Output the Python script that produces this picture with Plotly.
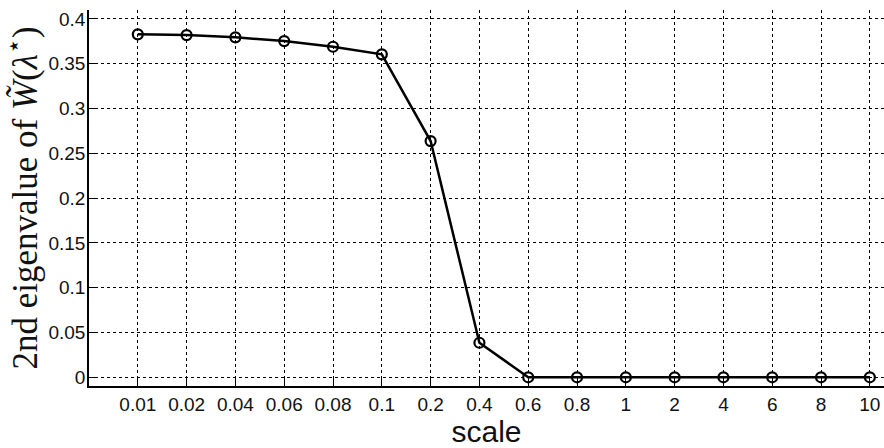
import plotly.graph_objects as go

# Scale parameter (categorical axis) and the 2nd eigenvalue at each scale
scales = ["0.01", "0.02", "0.04", "0.06", "0.08", "0.1", "0.2", "0.4",
          "0.6", "0.8", "1", "2", "4", "6", "8", "10"]
eigen2 = [0.3828, 0.3820, 0.3795, 0.3753, 0.3690, 0.3605, 0.2637, 0.0386,
          0.0, 0.0, 0.0, 0.0, 0.0, 0.0, 0.0, 0.0]
y_ticks = [0, 0.05, 0.1, 0.15, 0.2, 0.25, 0.3, 0.35, 0.4]
y_tick_text = ["0", "0.05", "0.1", "0.15", "0.2", "0.25", "0.3", "0.35", "0.4"]

fig = go.Figure()
fig.add_trace(go.Scatter(
    x=scales, y=eigen2,
    mode="lines+markers",
    line=dict(color="black", width=2.5),
    marker=dict(symbol="circle-open", size=10, color="black",
                line=dict(color="black", width=2.2)),
    cliponaxis=False,
    showlegend=False,
))

grid = dict(showgrid=True, gridcolor="black", gridwidth=1, griddash="3px,3px")

fig.update_xaxes(
    type="category",
    categoryorder="array", categoryarray=scales,
    range=[-1, 15.29],
    showline=True, linecolor="black", linewidth=1.5,
    ticks="inside", ticklen=9, tickwidth=1.2, tickcolor="black",
    tickfont=dict(family="Liberation Sans, Arial, sans-serif", size=19, color="#111"),
    title=dict(text="scale", standoff=9,
               font=dict(family="Liberation Sans, Arial, sans-serif", size=30, color="#111")),
    zeroline=False,
    **grid,
)
fig.update_yaxes(
    range=[-0.0097, 0.41],
    tickvals=y_ticks, ticktext=y_tick_text,
    showline=True, linecolor="black", linewidth=1.5,
    ticks="inside", ticklen=9, tickwidth=1.2, tickcolor="black",
    ticklabelstandoff=-2,
    tickfont=dict(family="Liberation Sans, Arial, sans-serif", size=19, color="#111"),
    title=dict(text="2nd eigenvalue of <i>W̃</i>(<i>λ</i><sup>⋆</sup>)", standoff=6,
               font=dict(family="Liberation Serif, DejaVu Serif, serif", size=35, color="#111")),
    zeroline=False,
    **grid,
)

fig.update_layout(
    width=884, height=448,
    margin=dict(l=89, r=0, t=10, b=62),
    paper_bgcolor="white", plot_bgcolor="white",
)

fig.write_html("out.html")
